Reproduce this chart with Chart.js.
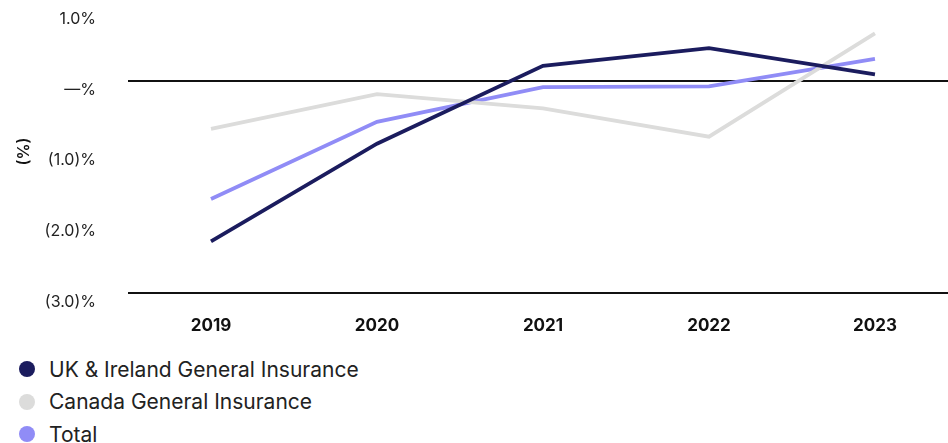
<!DOCTYPE html>
<html lang="en">
  <head>
    <meta charset="UTF-8" />
    <title>General Insurance</title>
    <script src="https://cdn.jsdelivr.net/npm/chart.js"></script>
    <style>
      html,body{margin:0;padding:0;background:#fff;overflow:hidden}
      body{font-family:Inter,'Noto Sans',sans-serif;color:#222;width:948px;height:443px}
      .wrap{position:relative;width:948px;height:345px}
      .legend{margin:8px 0 0 19px;padding:0;list-style:none}
      .legend li{display:flex;align-items:center;height:32.5px;font-size:21px}
      .legend span{display:inline-block;width:16px;height:16px;border-radius:50%;margin-right:14px}
    </style>
  </head>
  <body>
    <div class="wrap"><canvas id="chart"></canvas></div>
    <ul class="legend" id="legend"></ul>

    <script>
      // data
      const years = [2019, 2020, 2021, 2022, 2023];
      const ukIreland = [-2.27, -0.89, 0.21, 0.46, 0.09];
      const canada = [-0.68, -0.19, -0.39, -0.79, 0.67];
      const total = [-1.67, -0.58, -0.09, -0.08, 0.31];
      const yTicks = [1, 0, -1, -2, -3];
      const yTickLabels = ['1.0%', '—%', '(1.0)%', '(2.0)%', '(3.0)%'];

      const series = [
        { label: 'UK & Ireland General Insurance', values: ukIreland, color: '#1b1c5e' },
        { label: 'Canada General Insurance', values: canada, color: '#dcdcdb' },
        { label: 'Total', values: total, color: '#908cf6' }
      ];

      const $ = s => document.querySelector(s);

      $('#legend').innerHTML = series.map(s =>
        `<li><span style="background:${s.color}"></span>${s.label}</li>`).join('');

      new Chart($('#chart'), {
        type: 'line',
        data: {
          datasets: series.map(s => ({
            label: s.label,
            data: s.values.map((v, i) => ({ x: years[i], y: v })),
            borderColor: s.color,
            backgroundColor: s.color,
            borderWidth: 3.8,
            pointRadius: 0,
            tension: 0
          }))
        },
        options: {
          responsive: true,
          maintainAspectRatio: false,
          animation: false,
          layout: { padding: { top: 10, right: 0, left: 0, bottom: 0 } },
          plugins: { legend: { display: false }, tooltip: { enabled: false } },
          scales: {
            x: {
              type: 'linear',
              min: 2018.5,
              max: 2023.44,
              afterBuildTicks: sc => { sc.ticks = years.map(v => ({ value: v })); },
              afterFit: sc => { sc.height = 52; },
              grid: { display: false, drawTicks: false },
              border: { display: false },
              ticks: {
                callback: v => String(v),
                color: '#111',
                padding: 23,
                maxRotation: 0,
                font: { family: 'Inter', size: 17, weight: 'bold' }
              }
            },
            y: {
              min: -3,
              max: 1,
              afterBuildTicks: sc => { sc.ticks = yTicks.map(v => ({ value: v })); },
              afterFit: sc => { sc.width = 128; sc.paddingTop = 0; sc.paddingBottom = 0; },
              border: { display: false },
              grid: {
                drawTicks: false,
                lineWidth: 2,
                color: c => (c.tick && (c.tick.value === 0 || c.tick.value === -3)) ? '#111' : 'rgba(0,0,0,0)'
              },
              title: {
                display: true,
                text: '(%)',
                color: '#111',
                padding: { top: 15, bottom: 0 },
                font: { family: 'Inter', size: 16, weight: '600' }
              },
              ticks: {
                callback: (v, i) => yTickLabels[i],
                color: '#222',
                padding: 32,
                labelOffset: 9,
                font: { family: 'Inter', size: 16 }
              }
            }
          }
        }
      });
    </script>
  </body>
</html>
